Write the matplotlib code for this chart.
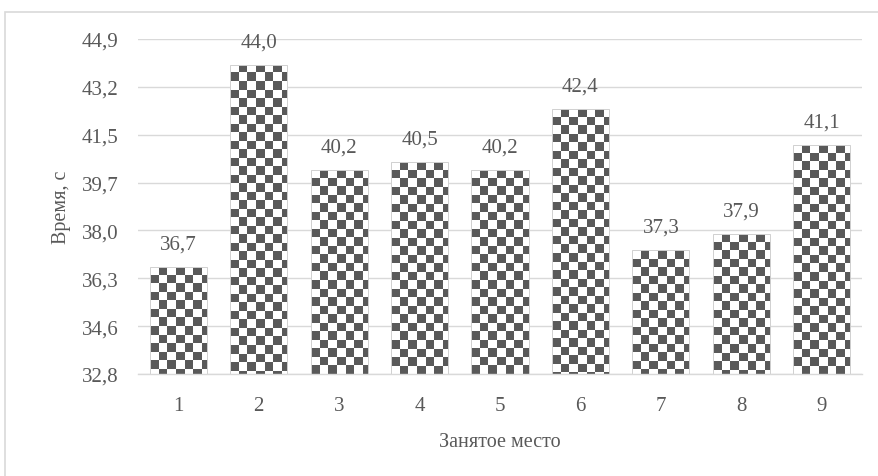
import math
import numpy as np
import matplotlib
matplotlib.use("Agg")
import matplotlib.pyplot as plt
from matplotlib.colors import ListedColormap
from matplotlib.patches import Rectangle

plt.rcParams['font.family'] = ['Liberation Serif', 'DejaVu Serif']

##### DATA #####
places = ["1", "2", "3", "4", "5", "6", "7", "8", "9"]
times = [36.7, 44.0, 40.2, 40.5, 40.2, 42.4, 37.3, 37.9, 41.1]

# value axis (Excel-style bounds)
y_min = 32.84
y_step = 1.726
n_steps = 7
y_max = y_min + y_step * n_steps

txt_col = "#595959"
grid_col = "#d9d9d9"
cell_px = 8.5          # size of a checker cell in pixels
bar_w = 0.71
fs = 15

##### FIGURE #####
W, H = 879, 477
fig = plt.figure(figsize=(W / 100, H / 100), dpi=100)
ax_w_px, ax_h_px = 724, 335
ax = fig.add_axes([138 / W, 1 - 375 / H, ax_w_px / W, ax_h_px / H])

x = np.arange(len(places))
ax.set_xlim(-0.5, len(places) - 0.5)
ax.set_ylim(y_min, y_max)

# size of one checker cell in data units
dx = cell_px * len(places) / ax_w_px
dy = cell_px * (y_max - y_min) / ax_h_px

checker_cmap = ListedColormap(["white", txt_col])

# bars start at the axis minimum, like the category axis crossing
heights = [v - y_min for v in times]
bars = ax.bar(x, heights, bottom=y_min, width=bar_w, color="white",
              edgecolor="none", zorder=2)
for bar, val in zip(bars, times):
    x0 = bar.get_x()
    cols = int(math.ceil(bar_w / dx)) + 1
    rows = int(math.ceil((val - y_min) / dy)) + 1
    pattern = np.indices((rows, cols)).sum(axis=0) % 2
    img = ax.imshow(pattern, cmap=checker_cmap, interpolation="nearest",
                    aspect="auto", zorder=3,
                    extent=(x0, x0 + cols * dx, val - rows * dy, val))
    img.set_clip_path(bar)
# thin outline on top of the pattern
ax.bar(x, heights, bottom=y_min, width=bar_w, color="none",
       edgecolor="#d0d0d0", linewidth=0.7, zorder=4)

# value labels
for xi, val in zip(x, times):
    ax.annotate(f"{val:.1f}".replace(".", ","), (xi, val),
                xytext=(0, 16.5), textcoords="offset points",
                ha="center", va="center", fontsize=fs, color=txt_col,
                zorder=5)

ax.set_xlim(-0.5, len(places) - 0.5)
ax.set_ylim(y_min, y_max)

# ticks
yt = [y_min + i * y_step for i in range(n_steps + 1)]
ax.set_yticks(yt)
ax.set_yticklabels([f"{v:.1f}".replace(".", ",") for v in yt])
ax.set_xticks(x)
ax.set_xticklabels(places)
ax.tick_params(axis="both", length=0, labelsize=fs, labelcolor=txt_col)
ax.tick_params(axis="y", pad=14)
ax.tick_params(axis="x", pad=16)

ax.grid(axis="y", color=grid_col, linewidth=1.0, zorder=0)
ax.set_axisbelow(True)
for s in ["top", "right", "left"]:
    ax.spines[s].set_visible(False)
ax.spines["bottom"].set_color(grid_col)
ax.spines["bottom"].set_linewidth(1.0)
ax.spines["bottom"].set_zorder(6)

ax.set_xlabel("Занятое место", fontsize=fs - 0.5, color=txt_col, labelpad=12)
ax.set_ylabel("Время, с", fontsize=fs - 0.5, color=txt_col, labelpad=8)

# chart area border
fig.patches.append(Rectangle((5 / W, -0.1), 1.2, 1.1 - 12.5 / H,
                             transform=fig.transFigure, fill=False,
                             edgecolor=grid_col, linewidth=1.2))

fig.savefig("out.png", dpi=100)
